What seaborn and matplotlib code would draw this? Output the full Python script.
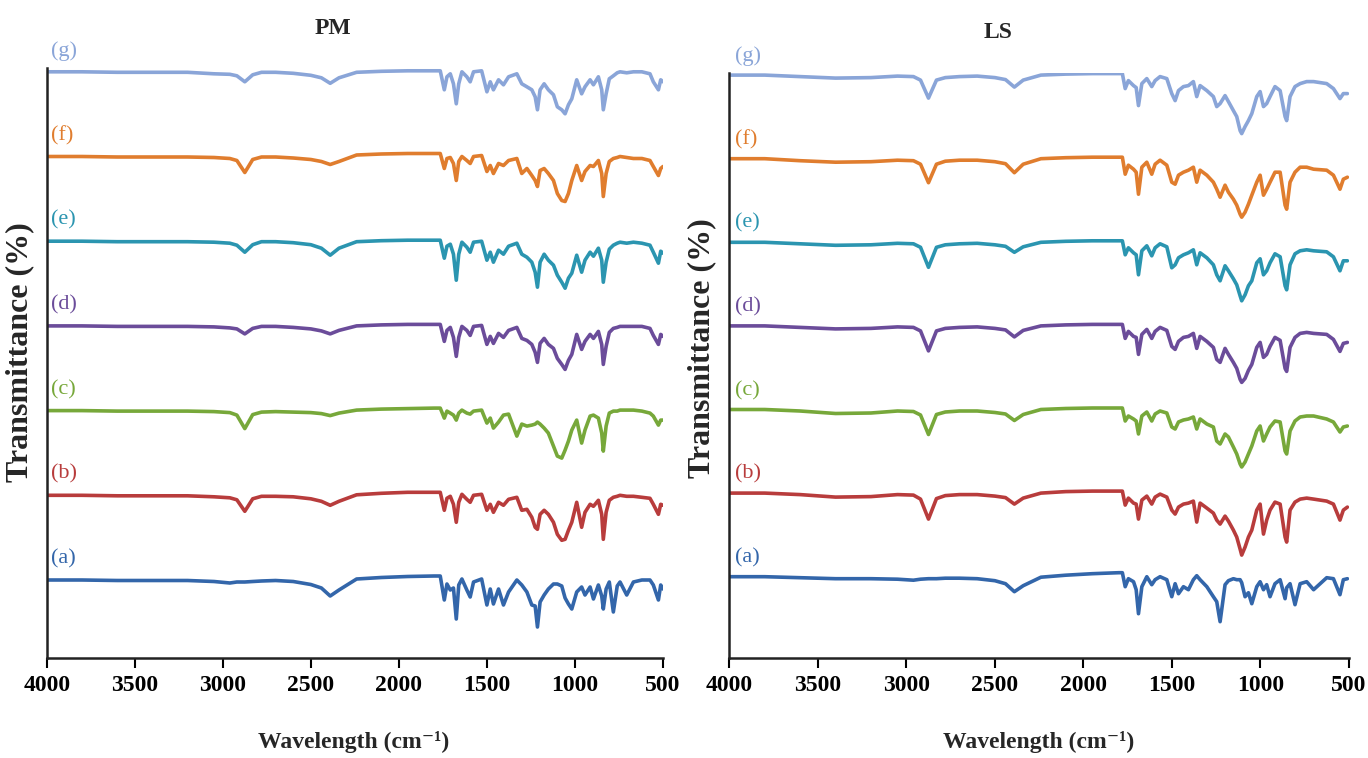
import matplotlib
matplotlib.use("Agg")
import matplotlib.pyplot as plt
import pandas as pd
import seaborn as sns

# ---------------- data ----------------
SAMPLES = ["(a)", "(b)", "(c)", "(d)", "(e)", "(f)", "(g)"]
COLORS = ["#3366AA", "#B83C3C", "#77A83A", "#6B4C9A", "#2B95B0", "#E07D2E", "#8AA5D8"]

# high-wavenumber region (transmittance, baseline = 100)
HI_WN = [4000, 3800, 3600, 3400, 3200, 3050, 2960, 2920, 2875, 2830, 2780, 2700,
         2600, 2500, 2440, 2390, 2340, 2240, 2100, 1950, 1800]

pm_hi_a = [100, 100, 99.5, 99.5, 99.5, 98.5, 97, 98, 98, 98.5, 99, 99.5, 98.5, 95.5, 92, 84, 90, 101, 102.5, 103.5, 104]
pm_hi_b = [100, 100, 99.5, 99.5, 99.5, 98.5, 97.5, 95.5, 84, 96.5, 99, 99, 98.5, 96.5, 94, 90, 94, 100.5, 102, 103, 103]
pm_hi_c = [100, 100, 99.5, 99.5, 99.5, 99, 98, 95.5, 82, 96, 98.5, 99, 98.5, 98, 97, 95, 97.5, 100.5, 101.5, 102, 102.5]
pm_hi_d = [100, 100, 99.5, 99.5, 99.5, 99, 98, 97, 92, 97.5, 99.5, 99.5, 98.5, 97, 95, 92, 95.5, 100, 101, 101.5, 101.5]
pm_hi_e = [100, 100, 99.5, 99.5, 99.5, 99, 98, 96, 89, 96.5, 99.5, 99.5, 98.5, 96.5, 93, 86, 93, 99.5, 100.5, 101, 101]
pm_hi_f = [100, 100, 99.5, 99.5, 99.5, 99, 98, 96, 84, 97, 99.5, 99.5, 98.5, 97, 95, 92, 95, 101.5, 102.5, 103, 103]
pm_hi_g = [100, 100, 99.5, 99.5, 99.5, 98, 97.5, 96, 90, 97, 99.5, 99.5, 98.5, 96.5, 94, 88.5, 94, 99.5, 100.5, 101, 101]

ls_hi_a = [100, 100, 99, 98, 98, 97.5, 96.5, 97.5, 98, 98, 98.5, 98.5, 98, 96, 93, 85, 91, 99.5, 101.5, 103, 104]
ls_hi_b = [100, 100, 98.5, 96, 96.5, 98.5, 98, 94, 74, 94.5, 97.5, 98.5, 98.5, 97, 95.5, 89, 95, 100, 101.5, 102, 102]
ls_hi_c = [100, 100, 98.5, 96, 96.5, 98.5, 98, 94.5, 75, 95, 97.5, 98.5, 98.5, 97, 95.5, 89, 95, 100, 101, 101.5, 101.5]
ls_hi_d = [100, 100, 98.5, 97, 97.5, 99, 98.5, 95, 75, 95, 97.5, 98.5, 99, 97.5, 96, 89, 95.5, 100, 101, 101.5, 101.5]
ls_hi_e = [100, 100, 98.5, 97, 97.5, 99, 98.5, 95, 75, 95, 97.5, 98.5, 99, 97.5, 96, 90, 95.5, 100, 101, 101.5, 101.5]
ls_hi_f = [100, 100, 98, 96.5, 97, 98.5, 98, 94.5, 76, 94.5, 97.5, 98.5, 98.5, 97, 95, 86, 94.5, 100, 101, 101.5, 101.5]
ls_hi_g = [100, 100, 98.5, 97, 97.5, 99, 98.5, 95, 77, 95, 97.5, 98.5, 99, 97.5, 95.5, 88, 95, 100, 101, 101.5, 101.5]

# fingerprint region: band depth below the 1800 cm-1 level
PM_FP_WN = [1765, 1742, 1727, 1708, 1690, 1674, 1660, 1642, 1614, 1595,
            1576, 1530, 1500, 1481, 1463, 1434, 1406, 1377, 1330, 1302,
            1273, 1245, 1226, 1213, 1198, 1175, 1151, 1122, 1100, 1075,
            1056, 1037, 1018, 990, 962, 943, 914, 895, 867, 848,
            839, 823, 805, 782, 760, 744, 706, 668, 620, 574,
            555, 526, 513, 500]

pm_fp_a = [0, 24, 8, 14, 12, 43, 9, 3, 14, 21, 6, 3, 29, 13, 28, 13, 29, 16, 4, 9,
           16, 29, 30, 51, 26, 19, 13, 8, 8, 10, 22, 28, 33, 16, 11, 19, 11, 23, 9, 20,
           33, 13, 6, 36, 10, 6, 19, 6, 4, 4, 9, 24, 9, 13]
pm_fp_b = [0, 18, 6, 4, 12, 30, 10, 2, 7, 10, 3, 2, 18, 12, 20, 10, 13, 7, 5, 18,
           17, 25, 35, 37, 22, 18, 22, 30, 42, 48, 47, 38, 30, 10, 35, 20, 12, 14, 8, 22,
           47, 20, 8, 5, 4, 3, 4, 4, 5, 6, 12, 22, 12, 13]
pm_fp_c = [0, 10, 3, 5, 7, 12, 5, 2, 5, 6, 3, 2, 15, 10, 20, 14, 7, 6, 28, 16,
           18, 17, 16, 14, 16, 20, 25, 38, 48, 50, 42, 33, 22, 12, 35, 22, 8, 7, 10, 25,
           43, 18, 5, 3, 3, 2, 2, 2, 3, 5, 8, 17, 12, 12]
pm_fp_d = [0, 17, 6, 3, 13, 32, 13, 2, 6, 11, 2, 1, 20, 12, 19, 9, 13, 6, 3, 14,
           16, 20, 28, 38, 19, 14, 20, 24, 34, 40, 45, 36, 30, 10, 25, 17, 10, 14, 7, 20,
           40, 22, 8, 4, 3, 2, 2, 2, 2, 4, 11, 20, 10, 12]
pm_fp_e = [0, 18, 6, 4, 14, 40, 14, 2, 7, 12, 2, 1, 20, 12, 22, 10, 14, 6, 3, 14,
           17, 22, 32, 47, 22, 14, 20, 25, 35, 42, 48, 38, 33, 15, 32, 20, 12, 16, 8, 20,
           42, 22, 9, 5, 3, 2, 3, 2, 3, 5, 12, 23, 11, 13]
pm_fp_f = [0, 15, 5, 4, 10, 27, 8, 3, 7, 10, 3, 2, 18, 12, 20, 10, 12, 7, 5, 20,
           15, 22, 27, 33, 17, 15, 20, 27, 40, 47, 48, 40, 27, 12, 27, 18, 12, 13, 7, 20,
           43, 20, 8, 5, 4, 3, 4, 5, 5, 7, 13, 22, 15, 13]
pm_fp_g = [0, 19, 6, 3, 13, 33, 13, 1, 6, 11, 1, 0, 21, 11, 19, 9, 14, 6, 3, 13,
           16, 19, 26, 39, 19, 13, 19, 24, 36, 39, 43, 34, 28, 9, 23, 16, 9, 14, 6, 19,
           39, 23, 8, 5, 2, 1, 2, 1, 1, 3, 11, 19, 9, 11]

LS_FP_WN = [1780, 1764, 1746, 1717, 1702, 1689, 1670, 1642, 1614, 1595,
            1567, 1529, 1501, 1482, 1463, 1435, 1407, 1379, 1360, 1341,
            1303, 1266, 1247, 1228, 1200, 1181, 1153, 1134, 1115, 1106,
            1087, 1068, 1049, 1021, 1002, 983, 965, 946, 918, 889,
            861, 852, 833, 805, 776, 739, 700, 626, 588, 551,
            532, 509]

ls_fp_a = [0, 14, 6, 9, 17, 41, 14, 4, 12, 7, 4, 7, 24, 11, 21, 14, 17, 7, 3, 7,
           14, 24, 29, 49, 12, 8, 6, 7, 7, 10, 24, 20, 31, 14, 9, 17, 12, 24, 11, 7,
           26, 15, 11, 32, 11, 9, 17, 5, 6, 22, 7, 6]
ls_fp_b = [0, 14, 7, 12, 13, 28, 9, 5, 13, 6, 3, 6, 19, 23, 16, 13, 12, 10, 31, 12,
           17, 22, 29, 33, 25, 30, 39, 46, 58, 64, 56, 46, 39, 19, 13, 43, 29, 19, 11, 13,
           46, 51, 19, 11, 8, 7, 8, 10, 13, 29, 19, 16]
ls_fp_c = [0, 13, 8, 11, 13, 26, 8, 4, 13, 6, 3, 5, 19, 21, 14, 12, 11, 9, 21, 11,
           16, 19, 33, 36, 26, 29, 39, 46, 56, 59, 54, 46, 38, 23, 18, 33, 26, 19, 13, 14,
           43, 46, 23, 13, 9, 8, 8, 11, 14, 24, 19, 18]
ls_fp_d = [0, 14, 7, 12, 13, 30, 10, 5, 14, 7, 3, 6, 22, 25, 17, 13, 12, 9, 24, 12,
           17, 23, 35, 38, 24, 30, 38, 44, 55, 58, 54, 46, 40, 23, 18, 33, 30, 22, 13, 16,
           44, 47, 23, 13, 9, 8, 9, 10, 15, 27, 19, 18]
ls_fp_e = [0, 14, 7, 12, 14, 34, 10, 5, 15, 7, 3, 6, 27, 24, 17, 14, 12, 9, 24, 12,
           17, 24, 34, 40, 25, 30, 38, 44, 55, 60, 54, 45, 40, 22, 18, 34, 30, 22, 13, 16,
           45, 49, 24, 13, 10, 9, 10, 11, 16, 30, 20, 20]
ls_fp_f = [0, 17, 8, 12, 15, 37, 10, 5, 17, 7, 3, 8, 25, 27, 18, 15, 13, 10, 25, 13,
           18, 25, 32, 40, 28, 35, 42, 48, 57, 60, 55, 47, 38, 25, 18, 38, 32, 25, 15, 15,
           48, 52, 25, 15, 10, 10, 12, 13, 18, 32, 22, 20]
ls_fp_g = [0, 15, 7, 12, 14, 32, 10, 5, 13, 7, 3, 5, 20, 27, 17, 13, 12, 8, 23, 12,
           17, 23, 33, 30, 22, 28, 37, 43, 57, 60, 53, 47, 40, 23, 18, 33, 30, 23, 13, 17,
           43, 47, 23, 13, 10, 8, 8, 10, 15, 25, 20, 20]

PM_HI = [pm_hi_a, pm_hi_b, pm_hi_c, pm_hi_d, pm_hi_e, pm_hi_f, pm_hi_g]
PM_FP = [pm_fp_a, pm_fp_b, pm_fp_c, pm_fp_d, pm_fp_e, pm_fp_f, pm_fp_g]
LS_HI = [ls_hi_a, ls_hi_b, ls_hi_c, ls_hi_d, ls_hi_e, ls_hi_f, ls_hi_g]
LS_FP = [ls_fp_a, ls_fp_b, ls_fp_c, ls_fp_d, ls_fp_e, ls_fp_f, ls_fp_g]

X_TICKS = [4000, 3500, 3000, 2500, 2000, 1500, 1000, 500]

# ---------------- style ----------------
sns.set_theme(style="white")
SERIF = ["Liberation Serif", "DejaVu Serif"]
plt.rcParams["font.family"] = SERIF


def build_frame(his, fps, fp_wn, step):
    rows = []
    for k, (hi, fp) in enumerate(zip(his, fps)):
        assert len(hi) == len(HI_WN) and len(fp) == len(fp_wn)
        wn = HI_WN + fp_wn
        t = list(hi) + [hi[-1] - d for d in fp]
        for w, v in zip(wn, t):
            rows.append({"wn": w, "T": v + k * step, "sample": SAMPLES[k]})
    return pd.DataFrame(rows)


fig = plt.figure(figsize=(13.68, 7.58), dpi=100)
W, H = 1368, 758

panels = [
    dict(title="PM", his=PM_HI, fps=PM_FP, fpwn=PM_FP_WN, step=84.7,
         box=(46.7, 68, 663, 658), ylo=22, lab_w=3977, lab_dy=21,
         title_xy=(333, 29), ylab_xy=(20, 352), xlab_xy=(354, 742)),
    dict(title="LS", his=LS_HI, fps=LS_FP, fpwn=LS_FP_WN, step=83.6,
         box=(729.3, 73, 1349, 658), ylo=18.7, lab_w=3966, lab_dy=19,
         title_xy=(998, 32), ylab_xy=(702, 348), xlab_xy=(1039, 742)),
]

palette = dict(zip(SAMPLES, COLORS))

for p in panels:
    x0, y0, x1, y1 = p["box"]
    ax = fig.add_axes([x0 / W, 1 - y1 / H, (x1 - x0) / W, (y1 - y0) / H])
    df = build_frame(p["his"], p["fps"], p["fpwn"], p["step"])
    sns.lineplot(data=df, x="wn", y="T", hue="sample", palette=palette,
                 estimator=None, legend=False, linewidth=2.6, ax=ax)
    ax.set_xlim(4000, 500)
    ax.set_ylim(p["ylo"], p["ylo"] + (y1 - y0))
    ax.set_xticks(X_TICKS)
    ax.set_xticklabels([str(t) for t in X_TICKS], fontsize=17, fontweight="bold",
                       family=SERIF)
    ax.set_yticks([])
    ax.set_xlabel("")
    ax.set_ylabel("")
    ax.tick_params(axis="x", direction="out", length=7, width=1.5, pad=5,
                   colors="black", bottom=True)
    sns.despine(ax=ax)
    for s in ("left", "bottom"):
        ax.spines[s].set_color("#222222")
        ax.spines[s].set_linewidth(1.8)
    for k, lab in enumerate(SAMPLES):
        ax.text(p["lab_w"], 100 + k * p["step"] + p["lab_dy"], lab, color=COLORS[k],
                fontsize=16, family=SERIF, ha="left", va="center")
    fig.text(p["title_xy"][0] / W, 1 - p["title_xy"][1] / H, p["title"],
             fontsize=17, fontweight="bold", family=SERIF, ha="center", va="center")
    fig.text(p["ylab_xy"][0] / W, 1 - p["ylab_xy"][1] / H, "Transmittance (%)",
             fontsize=23, fontweight="bold", family=SERIF, rotation=90,
             ha="center", va="center")
    fig.text(p["xlab_xy"][0] / W, 1 - p["xlab_xy"][1] / H, "Wavelength (cm⁻¹)",
             fontsize=17, fontweight="bold", family=SERIF, ha="center", va="center")

fig.savefig("out.png", dpi=100, facecolor="white")
